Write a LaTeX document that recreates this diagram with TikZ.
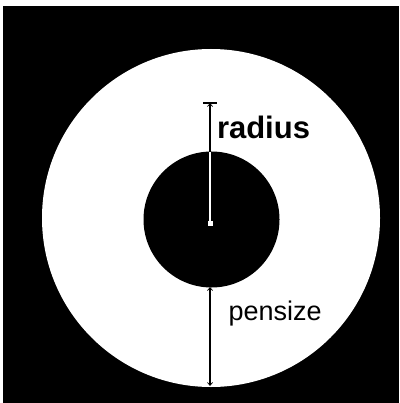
\documentclass[tikz,border=0pt]{standalone}
\usepackage{fontspec}
\newfontfamily\labfont{Liberation Sans}
\usetikzlibrary{arrows.meta}
\tikzset{mytip/.tip={Straight Barb[length=3pt,width=5pt,line width=0.7pt]}}
\begin{document}
\begin{tikzpicture}[x=1pt,y=-1pt,
  lab/.style={inner sep=0pt,outer sep=0pt,anchor=base west},
  dim/.style={line width=1.2pt}]
\useasboundingbox (0,0) rectangle (399,403);
\fill[white] (0,0) rectangle (399,403);
\fill[black] (3,6) rectangle (399,403);
\fill[white] (211,218) circle[radius=169];
\fill[black] (211.5,219.5) circle[radius=68];
% radius measure
\coordinate (c) at (210,223);
\coordinate (ri) at (210,152);
\coordinate (rt) at (210,103);
\coordinate (tl) at (203,103);
\coordinate (tr) at (217,103);
\draw[dim,white] (c) -- (ri);
\draw[dim,black,-mytip] (ri) -- (rt);
\draw[line width=1.2pt] (tl) -- (tr);
\fill[white] (207.5,220.5) rectangle (212.5,225.5);
\node[lab,font=\labfont\bfseries\fontsize{31}{31}\selectfont] (radius) at (217,138.5) {radius};
% pensize measure
\coordinate (pa) at (210,287);
\coordinate (pb) at (210,386);
\draw[dim,mytip-mytip] (pa) -- (pb);
\node[lab,font=\labfont\fontsize{27}{27}\selectfont] (pensize) at (228.5,320) {pensize};
\end{tikzpicture}
\end{document}
